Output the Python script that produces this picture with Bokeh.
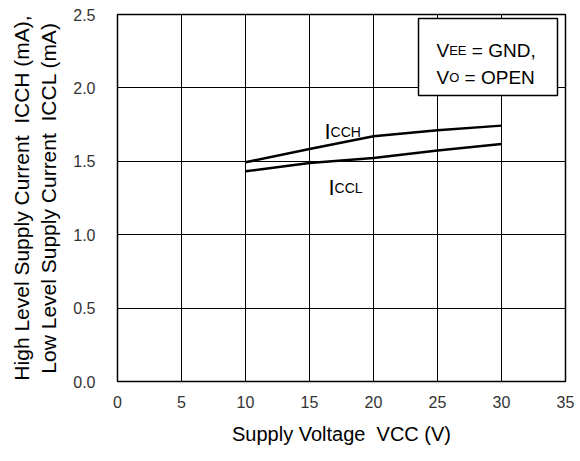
import math
from bokeh.plotting import figure
from bokeh.models import Label, BoxAnnotation, FixedTicker, Range1d
from bokeh.embed import file_html
from bokeh.resources import INLINE

# ---- data ----
supply_voltage = [10, 15, 20, 25, 30]            # Vcc (V)
icch = [1.493, 1.584, 1.670, 1.711, 1.743]       # High level supply current (mA)
iccl = [1.432, 1.488, 1.522, 1.573, 1.618]       # Low level supply current (mA)
x_ticks = [0, 5, 10, 15, 20, 25, 30, 35]
y_ticks = [0.0, 0.5, 1.0, 1.5, 2.0, 2.5]
y_tick_labels = ["0.0", "0.5", "1.0", "1.5", "2.0", "2.5"]
x_title = "Supply Voltage\u00a0 VCC (V)"
y_title = "High Level Supply Current\u00a0 ICCH (mA),\nLow Level Supply Current\u00a0 ICCL (mA)"

FONT = "Liberation Sans"
W, H = 580, 461
BL, BR, BT, BB = 117, 15, 14, 80
FW, FH = W - BL - BR, H - BT - BB
X0, X1 = 0, 35
Y0, Y1 = 0, 2.5

p = figure(width=W, height=H, output_backend="svg", toolbar_location=None,
           x_range=Range1d(X0, X1), y_range=Range1d(Y0, Y1),
           min_border_left=BL, min_border_right=BR, min_border_top=BT, min_border_bottom=BB,
           background_fill_color="white", border_fill_color="white")

p.outline_line_color = "black"
p.outline_line_width = 1.5

for ax in (p.xaxis[0], p.yaxis[0]):
    ax.axis_line_color = None
    ax.major_tick_line_color = None
    ax.minor_tick_line_color = None
    ax.major_tick_out = 0
    ax.major_tick_in = 0
    ax.major_label_text_font = FONT
    ax.major_label_text_font_size = "16px"
    ax.major_label_text_color = "#333333"
    ax.axis_label_text_font = FONT
    ax.axis_label_text_font_style = "normal"
    ax.axis_label_text_color = "black"

p.xaxis.axis_label = x_title
p.yaxis.axis_label = y_title
p.xaxis.axis_label_text_font_size = "20px"
p.yaxis.axis_label_text_font_size = "21px"
p.xaxis.axis_label_standoff = 12
p.yaxis.axis_label_standoff = 10

p.xaxis.ticker = FixedTicker(ticks=x_ticks)
p.yaxis.ticker = FixedTicker(ticks=y_ticks)
p.yaxis.major_label_overrides = {t: s for t, s in zip(y_ticks, y_tick_labels)}
p.xaxis.major_label_standoff = 14
p.yaxis.major_label_standoff = 22

p.xgrid.ticker = FixedTicker(ticks=x_ticks)
p.ygrid.ticker = FixedTicker(ticks=y_ticks)
for g in (p.xgrid[0], p.ygrid[0]):
    g.grid_line_color = "black"
    g.grid_line_alpha = 1.0
    g.grid_line_width = 1

p.line(supply_voltage, icch, line_color="black", line_width=2.5, line_join="round")
p.line(supply_voltage, iccl, line_color="black", line_width=2.5, line_join="round")

# ---- text helpers (Arial / Liberation Sans advance widths, per 1000 em) ----
AW = {' ': 278, '(': 333, ')': 333, ',': 278, '.': 278, '=': 584,
      'A': 667, 'C': 722, 'D': 722, 'E': 667, 'G': 778, 'H': 722, 'I': 278, 'L': 556,
      'N': 722, 'O': 778, 'P': 667, 'S': 667, 'V': 667}


def tw(text, size):
    return sum(AW.get(c, 556) for c in text) * size / 1000.0


def seg_text(segments, start_px, start_py):
    """Place a run of text pieces (mixed sizes) starting at canvas pixel (start_px, start_py).
    Screen units of a Label are relative to the frame: x from its left, y up from its bottom."""
    pos = 0.0
    for text, size in segments:
        stripped = text.lstrip(" ")
        lead = tw(text[:len(text) - len(stripped)], size)
        px = start_px + pos + lead
        p.add_layout(Label(x=px - BL, y=(BT + FH) - start_py, x_units="screen", y_units="screen",
                           text=stripped, text_font=FONT,
                           text_font_size=f"{size}px", text_align="left",
                           text_baseline="alphabetic", text_color="black"))
        pos += tw(text, size)
    return pos


# condition box
p.add_layout(BoxAnnotation(left=418 - BL, right=557 - BL, top=(BT + FH) - 18, bottom=(BT + FH) - 95,
                           left_units="screen", right_units="screen",
                           top_units="screen", bottom_units="screen",
                           fill_color="white", fill_alpha=1.0,
                           line_color="black", line_alpha=1.0, line_width=1.5))
seg_text([("V", 19), ("EE", 13), (" = GND,", 19)], 436, 50)
seg_text([("V", 19), ("O", 13), (" = OPEN", 19)], 436, 77)

# curve labels
seg_text([("I", 22), ("CCH", 14)], 324, 131)
seg_text([("I", 22), ("CCL", 14)], 328, 187)

open("out.html", "w").write(file_html(p, INLINE))
